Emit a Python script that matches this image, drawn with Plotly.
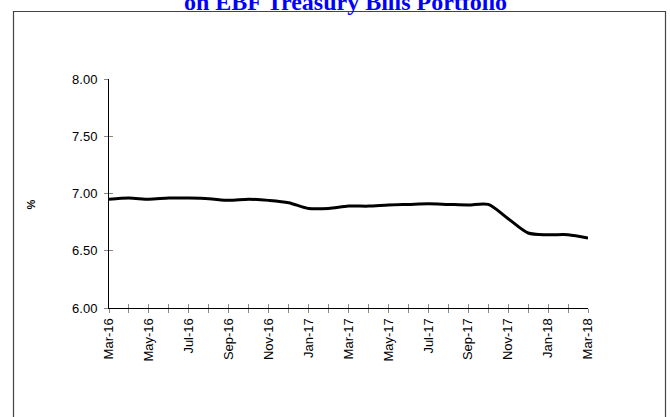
import plotly.graph_objects as go

# Monthly yield, March 2016 - March 2018
months = ["Mar-16", "Apr-16", "May-16", "Jun-16", "Jul-16", "Aug-16", "Sep-16",
          "Oct-16", "Nov-16", "Dec-16", "Jan-17", "Feb-17", "Mar-17", "Apr-17",
          "May-17", "Jun-17", "Jul-17", "Aug-17", "Sep-17", "Oct-17", "Nov-17",
          "Dec-17", "Jan-18", "Feb-18", "Mar-18"]
yield_pct = [6.95, 6.96, 6.95, 6.96, 6.96, 6.955, 6.94, 6.95, 6.94, 6.92,
             6.87, 6.87, 6.89, 6.89, 6.90, 6.905, 6.91, 6.905, 6.90, 6.905,
             6.78, 6.655, 6.64, 6.64, 6.61]
y_ticks = [6.0, 6.5, 7.0, 7.5, 8.0]
y_tick_text = ["6.00", "6.50", "7.00", "7.50", "8.00"]
x_tick_text = [m if i % 2 == 0 else "" for i, m in enumerate(months)]
title_text = "on EBF Treasury Bills Portfolio"

W, H = 670, 417
L, R, T, B = 109, 82, 79, 109
pw, ph = W - L - R, H - T - B


def px_x(p):
    return (p - L) / pw


def px_y(p):
    return (H - B - p) / ph


fig = go.Figure()
fig.add_trace(go.Scatter(
    x=months, y=yield_pct, mode="lines",
    line=dict(color="black", width=3, shape="spline", smoothing=0.8),
    hoverinfo="skip", showlegend=False,
))
# invisible companion trace so the second axes pair exists
fig.add_trace(go.Scatter(
    x=months, y=yield_pct, mode="lines", xaxis="x2", yaxis="y2",
    line=dict(color="rgba(0,0,0,0)", width=0), hoverinfo="skip", showlegend=False,
))

tick_font = dict(family="Liberation Sans, Arial", size=13, color="black")
fig.update_layout(
    width=W, height=H,
    margin=dict(l=L, r=R, t=T, b=B),
    paper_bgcolor="white", plot_bgcolor="white",
    xaxis=dict(
        type="category", range=[0, len(months) - 1],
        tickmode="array", tickvals=months, ticktext=x_tick_text,
        tickangle=-90, tickfont=tick_font,
        ticks="outside", ticklen=4, tickcolor="#888", tickwidth=1,
        showline=True, linecolor="black", linewidth=1,
        showgrid=False, zeroline=False,
    ),
    xaxis2=dict(
        type="category", range=[0, len(months) - 1], overlaying="x",
        tickmode="array", tickvals=months, showticklabels=False,
        ticks="inside", ticklen=4, tickcolor="#888", tickwidth=1,
        showline=False, showgrid=False, zeroline=False,
    ),
    yaxis=dict(
        range=[6, 8], tickmode="array", tickvals=y_ticks, ticktext=y_tick_text,
        tickfont=tick_font, ticks="outside", ticklen=4, tickcolor="#888",
        tickwidth=1, ticklabelstandoff=4,
        showline=True, linecolor="black", linewidth=1,
        showgrid=False, zeroline=False,
    ),
    yaxis2=dict(
        range=[6, 8], overlaying="y", tickmode="array", tickvals=y_ticks,
        showticklabels=False, ticks="inside", ticklen=4, tickcolor="#888",
        tickwidth=1, showline=False, showgrid=False, zeroline=False,
    ),
)

fig.add_annotation(
    text="<b>%s</b>" % title_text, xref="paper", yref="paper",
    x=px_x(345), y=px_y(2), xanchor="center", yanchor="middle",
    showarrow=False,
    font=dict(family="Liberation Serif, Times New Roman", size=24, color="#0000ff"),
)
fig.add_annotation(
    text="<b>%</b>", xref="paper", yref="paper",
    x=px_x(30.5), y=px_y(205), xanchor="center", yanchor="middle",
    textangle=-90, showarrow=False,
    font=dict(family="Liberation Sans, Arial", size=11, color="black"),
)
fig.add_shape(
    type="rect", xref="paper", yref="paper", layer="below",
    x0=px_x(13.5), x1=px_x(665.5), y0=px_y(430), y1=px_y(11.5),
    line=dict(color="#444", width=1.2), fillcolor="rgba(0,0,0,0)",
)

fig.write_html("out.html")
